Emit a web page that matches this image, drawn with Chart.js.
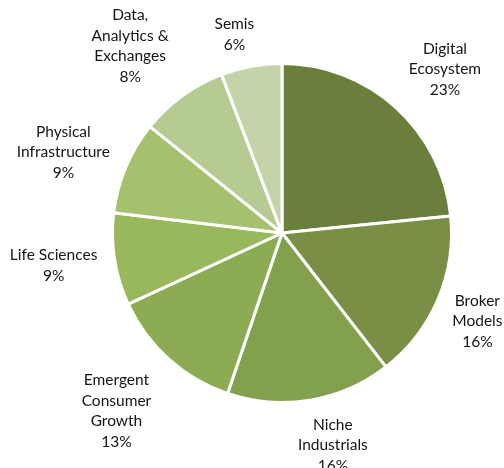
<!DOCTYPE html>
<html>
<head>
<meta charset="utf-8">
<script src="https://cdn.jsdelivr.net/npm/chart.js@4"></script>
<style>
  html, body { margin: 0; padding: 0; background: #fff; }
  #wrap { width: 504px; height: 468px; }
</style>
</head>
<body>
<div id="wrap"><canvas id="pieChart" width="504" height="468"></canvas></div>
<script>
// slice names, split the way the labels wrap
const categories = [
  ["Digital", "Ecosystem"],
  ["Broker", "Models"],
  ["Niche", "Industrials"],
  ["Emergent", "Consumer", "Growth"],
  ["Life Sciences"],
  ["Physical", "Infrastructure"],
  ["Data,", "Analytics &", "Exchanges"],
  ["Semis"]
];
// shares; labels show them rounded
const shares = [23.4, 16.1, 15.7, 12.9, 8.8, 8.9, 8.4, 5.8];
const sliceColors = ["#6a7f3c", "#788f45", "#83a04c", "#8dab52", "#99b85c", "#a5c16e", "#b5cb92", "#c4d4a9"];

// small nudges for the outside labels (px), like excel's own placement
const labelNudge = [[13, -2], [0, 2], [14, -3], [-17, 8], [0, 0], [-3, 4], [-19, -2], [-10, 6]];

const fontFamily = "Lato, 'Liberation Sans', sans-serif";
const fontSize = 15.5;
const lineHeight = 20.5;

const outsideLabels = {
  id: "outsideLabels",
  afterDatasetsDraw(chart) {
    const ctx = chart.ctx;
    const meta = chart.getDatasetMeta(0);
    const total = shares.reduce(function(a, b) { return a + b; }, 0);
    ctx.save();
    ctx.font = fontSize + "px " + fontFamily;
    ctx.fillStyle = "#141414";
    ctx.textAlign = "center";
    ctx.textBaseline = "middle";
    meta.data.forEach(function(arc, i) {
      const lines = categories[i].concat([Math.round(shares[i] / total * 100) + "%"]);
      const mid = (arc.startAngle + arc.endAngle) / 2;
      const ux = Math.cos(mid), uy = Math.sin(mid);
      const w = Math.max.apply(null, lines.map(function(t) { return ctx.measureText(t).width; }));
      const h = lines.length * lineHeight;
      const r = arc.outerRadius + 18;
      const cx = arc.x + r * ux + ux * w / 2 + labelNudge[i][0];
      const cy = arc.y + r * uy + uy * h / 2 + labelNudge[i][1];
      lines.forEach(function(t, k) {
        ctx.fillText(t, cx, cy - h / 2 + lineHeight * (k + 0.5));
      });
    });
    ctx.restore();
  }
};

new Chart(document.getElementById("pieChart"), {
  type: "pie",
  data: {
    labels: categories.map(function(c) { return c.join(" "); }),
    datasets: [{
      data: shares,
      backgroundColor: sliceColors,
      borderColor: "#ffffff",
      borderWidth: 3
    }]
  },
  options: {
    responsive: false,
    animation: false,
    layout: { padding: { left: 111, right: 51, top: 62, bottom: 64 } },
    plugins: {
      legend: { display: false },
      tooltip: { enabled: false }
    }
  },
  plugins: [outsideLabels]
});
</script>
</body>
</html>
